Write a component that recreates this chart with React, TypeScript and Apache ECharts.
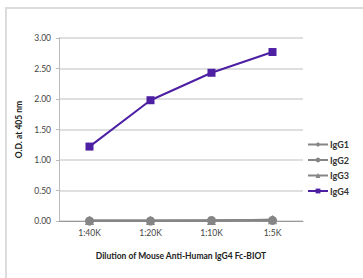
import React, { useEffect, useRef } from "react";
import * as echarts from "echarts";

const categories = ["1:40K", "1:20K", "1:10K", "1:5K"];
const igg1 = [0.01, 0.01, 0.01, 0.02];
const igg2 = [0.0, 0.0, 0.01, 0.01];
const igg3 = [0.01, 0.01, 0.01, 0.02];
const igg4 = [1.22, 1.98, 2.43, 2.77];

const GRAY = "#858585";
const PURPLE = "#4d1fa3";
const FONT = "Lato";

export default function App() {
  const ref = useRef<HTMLDivElement>(null);
  useEffect(() => {
    if (!ref.current) return;
    const chart = echarts.init(ref.current, undefined, { renderer: "svg" });
    const mk = (name: string, data: number[], symbol: string, color: string, size: number) => ({
      name,
      type: "line",
      data,
      symbol,
      symbolSize: size,
      itemStyle: { color },
      lineStyle: { color, width: 2 },
      z: name === "IgG4" ? 5 : 3,
    });
    chart.setOption({
      animation: false,
      textStyle: { fontFamily: FONT },
      graphic: [
        {
          type: "rect",
          shape: { x: 6, y: 8, width: 400, height: 320 },
          style: { fill: "none", stroke: "#dcdcdc", lineWidth: 2 },
        },
      ],
      grid: { left: 59, right: 60, top: 38, bottom: 57 },
      legend: {
        orient: "vertical",
        left: 302,
        top: 135,
        itemGap: 6.5,
        itemWidth: 20,
        itemHeight: 6,
        textStyle: { fontSize: 9, fontWeight: "bold", color: "#333", fontFamily: FONT, padding: [0, 0, 0, -3] },
        data: ["IgG1", "IgG2", "IgG3", "IgG4"],
      },
      xAxis: {
        type: "category",
        data: categories,
        name: "Dilution of Mouse Anti-Human IgG4 Fc-BIOT",
        nameLocation: "middle",
        nameGap: 30,
        nameTextStyle: { fontSize: 8.5, fontWeight: "bold", color: "#222", fontFamily: FONT },
        axisLine: { lineStyle: { color: "#999" } },
        axisTick: { length: 3, lineStyle: { color: "#999" } },
        axisLabel: { fontSize: 8.5, color: "#444", margin: 7 },
      },
      yAxis: {
        type: "value",
        min: 0,
        max: 3,
        interval: 0.5,
        name: "O.D. at 405 nm",
        nameLocation: "middle",
        nameGap: 29,
        nameTextStyle: { fontSize: 8.5, fontWeight: "bold", color: "#222", fontFamily: FONT },
        axisLine: { show: true, lineStyle: { color: "#bbb" } },
        axisTick: { show: true, length: 3, lineStyle: { color: "#bbb" } },
        axisLabel: { fontSize: 8.5, color: "#444", margin: 8, formatter: (v: number) => v.toFixed(2) },
        splitLine: { lineStyle: { color: "#d4d4d4", width: 1.5 } },
      },
      series: [
        mk("IgG1", igg1, "diamond", GRAY, 9),
        mk("IgG2", igg2, "circle", GRAY, 9),
        mk("IgG3", igg3, "triangle", GRAY, 9),
        mk("IgG4", igg4, "rect", PURPLE, 8),
      ],
    });
    return () => chart.dispose();
  }, []);
  return (
    <div
      ref={ref}
      style={{ position: "absolute", left: 0, top: 0, width: 363, height: 278, background: "#fff" }}
    />
  );
}
